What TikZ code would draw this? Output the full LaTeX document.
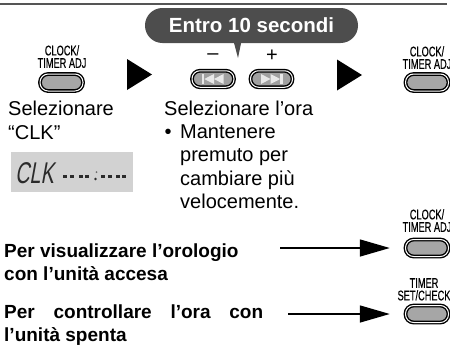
\documentclass[tikz,border=0pt]{standalone}
\usepackage{fontspec}
\setmainfont{Liberation Sans}
\newfontfamily\narrowfont[FakeStretch=0.66,FakeBold=0.4]{Liberation Sans}
\newfontfamily\lcdfont[FakeStretch=0.66,FakeSlant=0.18]{Liberation Sans}
\usetikzlibrary{arrows.meta}
\definecolor{calloutgray}{HTML}{4D4D4D}
\definecolor{btngray}{HTML}{A6A6A6}
\definecolor{skipgray}{HTML}{A0A0A0}
\definecolor{icongray}{HTML}{E8E8E8}
\definecolor{lcdgray}{HTML}{D2D2D2}
\definecolor{lcdtext}{HTML}{2B2B2B}
\definecolor{rulegray}{HTML}{555555}
\begin{document}
\begin{tikzpicture}[x=1pt,y=-1pt,
  btn/.style={rectangle, rounded corners=8.2pt, minimum width=43pt, minimum height=17pt,
    inner sep=0pt, fill=btngray, draw=black, line width=1.4pt, double=white, double distance=1pt},
  skipbtn/.style={btn, fill=skipgray, minimum width=42pt, minimum height=16.5pt, rounded corners=8pt},
  lbl/.style={inner sep=0pt, anchor=north, align=center,
    font=\narrowfont\fontsize{14}{12.5}\selectfont},
  txt/.style={inner sep=0pt, anchor=base west, font=\fontsize{20}{23.5}\selectfont},
  btxt/.style={inner sep=0pt, anchor=base west, font=\bfseries\fontsize{19}{23}\selectfont},
  callout/.style={rectangle, rounded corners=17.4pt, minimum width=213pt, minimum height=35pt,
    inner sep=0pt, fill=calloutgray, text=white, font=\bfseries\fontsize{20.5}{24}\selectfont},
  conn/.style={line width=1.5pt, -{Triangle[length=30pt,width=17pt]}, shorten >=15pt},
  icon/.style={fill=icongray}
]
\useasboundingbox (0,0) rectangle (450,349);
\clip (0,0) rectangle (450,349);

% top rule
\draw[rulegray, line width=1.5pt] (0,4) -- (447,4);

% callout
\node[callout] (title) at (251.5,25.5) {Entro 10 secondi};
\fill[calloutgray] (233.5,41) -- (241.5,41) -- (238,58) -- cycle;

% step 1
\node[lbl] (l1) at (62,45) {CLOCK/\\TIMER ADJ};
\node[btn] (b1) at (61.5,82.5) {};
\node[txt] (s1a) at (8,115) {Selezionare};
\node[txt] (s1b) at (8,139) {“CLK”};

% LCD
\node[rectangle, fill=lcdgray, minimum width=122pt, minimum height=40pt, inner sep=0pt] (lcd) at (72,171.5) {};
\node[inner sep=0pt, anchor=base west, text=lcdtext, font=\lcdfont\fontsize{30}{30}\selectfont] (clk) at (15,183) {CLK};
\foreach \xa in {63,69.5,78.5,85,101,107.5,115.5,122}
  \fill[lcdtext] (\xa,175.2) rectangle ++(4.3,2.6);
\fill[lcdtext] (95.5,179) circle (1.3pt);
\fill[lcdtext, opacity=0.6] (96.5,172) circle (1pt);

% arrow 1
\fill (127,59) -- (152,74.5) -- (127,90) -- cycle;

% step 2
\node[inner sep=0pt, font=\fontsize{20}{20}\selectfont] (minus) at (213,57) {–};
\node[inner sep=0pt, font=\fontsize{20}{20}\selectfont] (plus) at (272,55.5) {+};
\node[skipbtn] (b2) at (213,79) {};
\node[skipbtn] (b3) at (271.5,79) {};
\begin{scope}[shift={(b2.center)}]
  \fill[icon] (-11,-5) rectangle (-8.7,5);
  \fill[icon] (-8.7,0) -- (1,-5) -- (1,5) -- cycle;
  \fill[icon] (1,0) -- (10.5,-5) -- (10.5,5) -- cycle;
\end{scope}
\begin{scope}[shift={(b3.center)}]
  \fill[icon] (11,-5) rectangle (8.7,5);
  \fill[icon] (8.7,0) -- (-1,-5) -- (-1,5) -- cycle;
  \fill[icon] (-1,0) -- (-10.5,-5) -- (-10.5,5) -- cycle;
\end{scope}
\node[txt] (s2a) at (164,115) {Selezionare l’ora};
\node[txt] (s2bul) at (164.5,138) {•};
\node[txt] (s2b) at (180,138) {Mantenere};
\node[txt] (s2c) at (180,161.5) {premuto per};
\node[txt] (s2d) at (180,185) {cambiare più};
\node[txt] (s2e) at (180,208.5) {velocemente.};

% arrow 2
\fill (337,59.5) -- (362,75) -- (337,90.5) -- cycle;

% step 3
\node[lbl] (l3) at (427,46) {CLOCK/\\TIMER ADJ};
\node[btn] (b4) at (427,82.5) {};

% bottom section
\node[btxt] (t1a) at (4,257) {Per visualizzare l’orologio};
\node[btxt] (t1b) at (4,280) {con l’unità accesa};
\node[btxt] (t2a) at (4,318) {\hbox to 259pt{Per\hfill controllare\hfill l’ora\hfill con}};
\node[btxt] (t2b) at (4,341) {l’unità spenta};

\node[lbl] (l5) at (427,209) {CLOCK/\\TIMER ADJ};
\node[btn] (b5) at (427,248) {};
\node[lbl] (l6) at (424,278) {TIMER\\SET/CHECK};
\node[btn] (b6) at (427,314) {};

\coordinate (c1) at (280,248);
\coordinate (c2) at (288,314);
\draw[conn] (c1) -- (c1 -| b5.west);
\draw[conn] (c2) -- (c2 -| b6.west);
\end{tikzpicture}
\end{document}
